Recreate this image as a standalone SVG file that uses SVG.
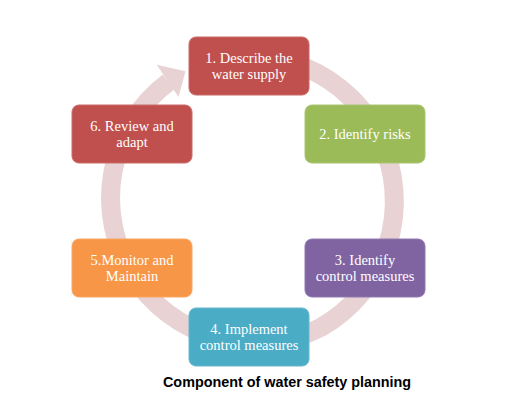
<svg xmlns="http://www.w3.org/2000/svg" width="510" height="416" viewBox="0 0 510 416">
<style>
.box{stroke-width:1}
.t{font-family:"Liberation Serif","Times New Roman",serif;font-size:14.5px;fill:#ffffff;text-anchor:middle}
.cap{font-family:"Liberation Sans",Arial,sans-serif;font-size:14px;font-weight:bold;fill:#000;text-anchor:middle}
.ring{fill:none;stroke:#e8d2d4;stroke-width:19}
</style>
<rect width="510" height="416" fill="#ffffff"/>
<g id="connectors">
<path class="ring" d="M199.4,65.2 A145,145 0 0 1 321.5,327.1 A145,145 0 0 1 168.5,82"/>
<polygon points="185.5,71.2 178.5,97 156.7,64.7" fill="#e8d2d4"/>
</g>
<g id="node1"><rect class="box" x="189" y="37" width="120" height="58" rx="7" fill="#c0504d" stroke="#c96a68"/>
<text class="t" x="249" y="63">1. Describe the</text><text class="t" x="249" y="78.5">water supply</text></g>
<g id="node2"><rect class="box" x="305" y="105" width="120" height="58" rx="7" fill="#9bbb59" stroke="#a9c470"/>
<text class="t" x="365" y="138.5">2. Identify risks</text></g>
<g id="node3"><rect class="box" x="305" y="239" width="120" height="58" rx="7" fill="#8064a2" stroke="#9079ae"/>
<text class="t" x="365" y="265">3. Identify</text><text class="t" x="365" y="280.5">control measures</text></g>
<g id="node4"><rect class="box" x="189" y="308" width="120" height="58" rx="7" fill="#4bacc6" stroke="#66b8ce"/>
<text class="t" x="249" y="334">4. Implement</text><text class="t" x="249" y="349.5">control measures</text></g>
<g id="node5"><rect class="box" x="72" y="239" width="120" height="58" rx="7" fill="#f79646" stroke="#f8a662"/>
<text class="t" x="132" y="265">5.Monitor and</text><text class="t" x="132" y="280.5">Maintain</text></g>
<g id="node6"><rect class="box" x="72" y="105" width="120" height="58" rx="7" fill="#c0504d" stroke="#c96a68"/>
<text class="t" x="132" y="131">6. Review and</text><text class="t" x="132" y="146.5">adapt</text></g>
<text class="cap" x="287" y="387" textLength="248" lengthAdjust="spacingAndGlyphs">Component of water safety planning</text>
</svg>
